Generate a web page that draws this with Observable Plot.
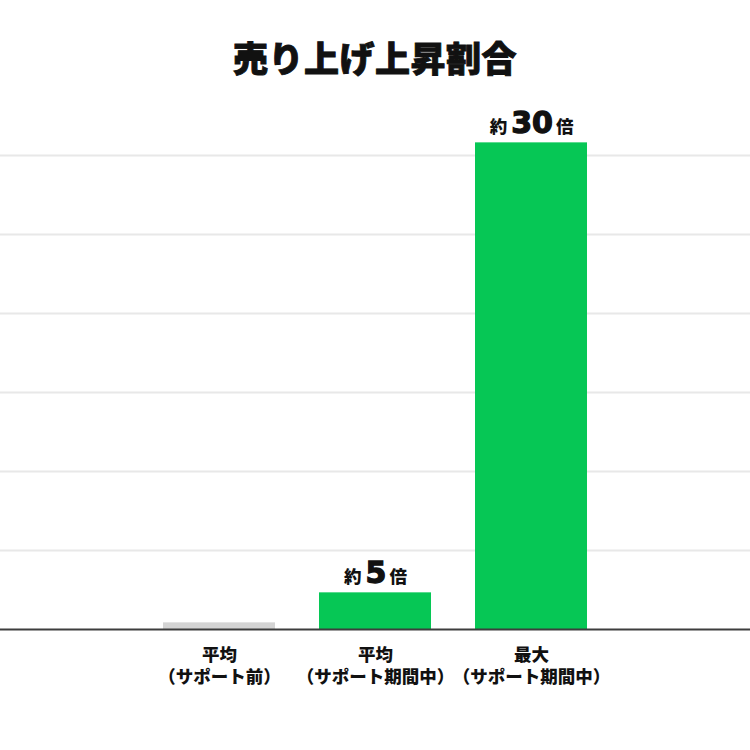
<!DOCTYPE html>
<html><head><meta charset="utf-8">
<script src="https://cdn.jsdelivr.net/npm/d3@7"></script>
<script src="https://cdn.jsdelivr.net/npm/@observablehq/plot@0.6"></script>
<style>
body{margin:0;background:#fff;font-family:"Noto Sans CJK JP",sans-serif;}
#title{height:95px;box-sizing:border-box;padding-top:39px;text-align:center;font-size:35px;line-height:1;font-weight:900;color:#111;margin:0;-webkit-text-stroke:0.9px #111;letter-spacing:0.5px}
#chart svg{display:block}
</style></head><body>
<h1 id="title">売り上げ上昇割合</h1>
<div id="chart"></div>
<script>
const categoryLine1 = ["平均", "平均", "最大"];
const categoryLine2 = ["（サポート前）", "（サポート期間中）", "（サポート期間中）"];
const values = [0.42, 2.32, 30.8];
const labelPrefix = ["", "約", "約"];
const labelNumber = ["", "5", "30"];
const labelSuffix = ["", "倍", "倍"];
const barColors = ["#d4d4d4", "#06c755", "#06c755"];
const gridTicks = [5, 10, 15, 20, 25, 30];

const data = categoryLine1.map((c, i) => ({
  cat: c + "\n" + categoryLine2[i],
  value: values[i],
  color: barColors[i],
  prefix: labelPrefix[i],
  num: labelNumber[i],
  suffix: labelSuffix[i],
  label: labelPrefix[i] + labelNumber[i] + labelSuffix[i]
}));
const labeled = data.filter(d => d.label);

const chart = Plot.plot({
  width: 750,
  height: 655,
  marginTop: 60,
  marginBottom: 121,
  marginLeft: 0,
  marginRight: 0,
  style: {fontFamily: '"Noto Sans CJK JP", sans-serif', color: "#111", background: "#fff"},
  x: {domain: data.map(d => d.cat), range: [141, 609], paddingInner: 0.282, paddingOuter: 0.141, label: null},
  y: {domain: [0, 30], axis: null},
  color: {type: "identity"},
  marks: [
    Plot.ruleY(gridTicks, {stroke: "#e8e8e8", strokeWidth: 2}),
    Plot.barY(data, {x: "cat", y: "value", fill: "color"}),
    Plot.ruleY([0], {stroke: "#3d3d3d", strokeWidth: 2}),
    Plot.text(labeled, {x: "cat", y: "value", text: "label", lineAnchor: "bottom", dy: -10, fontWeight: "bold", fill: "#111", fontSize: 17}),
    Plot.axisX({tickSize: 0, tickPadding: 16, fontSize: 17.5, fontWeight: 900, lineHeight: 1.25, label: null})
  ]
});

d3.select(chart).selectAll('g[aria-label="text"] text').each(function(_, k) {
  const d = labeled[k];
  if (!d) return;
  const t = d3.select(this);
  t.text(null);
  t.append("tspan").attr("font-size", 17.5).attr("font-weight", 900).text(d.prefix);
  t.append("tspan").attr("font-size", 30).attr("font-weight", 900)
    .attr("font-family", '"DejaVu Sans", sans-serif').attr("dx", 4)
    .attr("stroke", "#111").attr("stroke-width", 1.3).text(d.num);
  t.append("tspan").attr("font-size", 17.5).attr("font-weight", 900).attr("dx", 3).text(d.suffix);
});

document.getElementById("chart").append(chart);
</script>
</body></html>
